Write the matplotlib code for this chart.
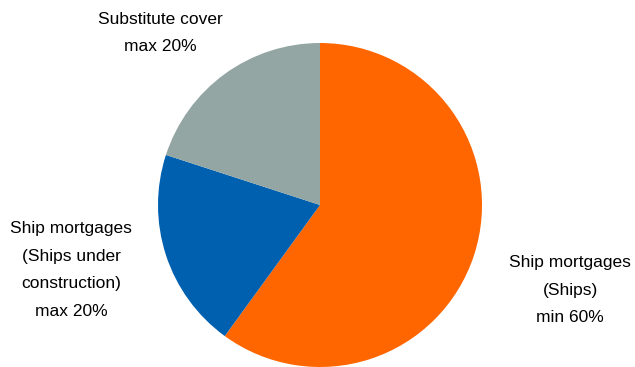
import matplotlib
matplotlib.use("Agg")
import matplotlib.pyplot as plt

labels = ["Ship mortgages\n(Ships)\nmin 60%",
          "Ship mortgages\n(Ships under\nconstruction)\nmax 20%",
          "Substitute cover\nmax 20%"]
values = [60, 20, 20]
colors = ["#FF6600", "#0060B0", "#94A6A3"]

W, H = 635, 367
fig = plt.figure(figsize=(W / 100, H / 100), dpi=100)
plt.rcParams['font.family'] = ['Liberation Sans', 'DejaVu Sans']

cx, cy, r = 320, 205, 162
ax = fig.add_axes([(cx - r) / W, (H - cy - r) / H, 2 * r / W, 2 * r / H])
ax.pie(values, colors=colors, startangle=90, counterclock=False,
       wedgeprops=dict(linewidth=0))
ax.set_aspect('equal')
ax.set_xlim(-1, 1)
ax.set_ylim(-1, 1)
ax.axis('off')

label_pos = [(570, 290), (71, 270), (160, 33)]
for lab, (x, y) in zip(labels, label_pos):
    fig.text(x / W, 1 - y / H, lab, ha='center', va='center', fontsize=12.5,
             linespacing=2.05, color='#000000')

fig.savefig("out.png", dpi=100)
